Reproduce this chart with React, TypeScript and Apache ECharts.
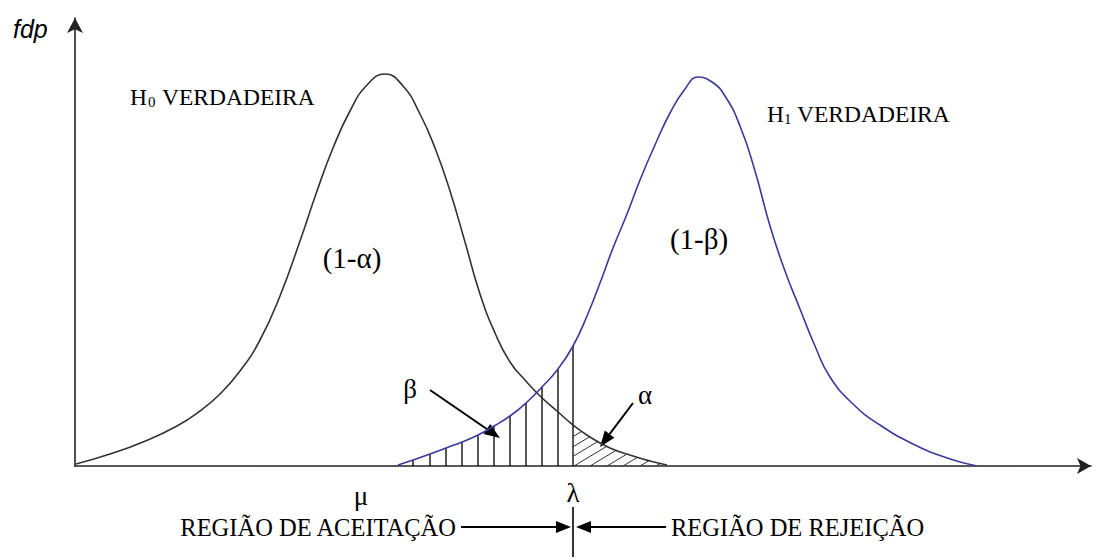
import React, { useEffect, useRef } from 'react';
import * as echarts from 'echarts';

// H0 density curve (x, height above baseline)
const h0X = [76, 110, 143, 177, 200, 220, 240, 260, 280, 300, 317, 333, 350, 367, 385, 403, 420, 435, 450, 465, 480, 495, 510, 525, 540, 557, 573, 590, 610, 633, 650, 667];
const h0Y = [2, 12, 24, 40, 55, 72, 95, 126, 170, 225, 275, 318, 355, 381, 392, 380, 352, 318, 275, 224, 172, 133, 104, 86, 70, 55, 41, 29, 18, 10, 5, 1];

// H1 density curve
const h1X = [398, 413, 430, 446, 462, 478, 494, 510, 526, 542, 558, 573, 587, 600, 613, 627, 640, 655, 670, 685, 698, 712, 725, 740, 755, 770, 785, 800, 815, 830, 853, 880, 913, 947, 977];
const h1Y = [1, 6, 12, 18, 24, 31, 40, 50, 63, 79, 97, 120, 150, 183, 218, 252, 286, 321, 353, 377, 389, 384, 370, 340, 295, 240, 195, 157, 120, 89, 62, 41, 22, 8, 0];

// beta region vertical hatch positions (last one is lambda)
const betaX = [413, 430, 446, 462, 478, 494, 510, 526, 542, 558, 573];
const lambdaX = 573;
// alpha region diagonal hatch start points on the baseline
const alphaStarts = [508, 524, 541, 557, 574, 590, 607, 623, 640, 656];
const hatchSlope = 0.6;

const SERIF = "'Liberation Serif', 'Times New Roman', serif";

function interp(xs: number[], ys: number[], x: number): number {
  if (x <= xs[0]) return ys[0];
  for (let i = 1; i < xs.length; i++) {
    if (x <= xs[i]) {
      const t = (x - xs[i - 1]) / (xs[i] - xs[i - 1]);
      return ys[i - 1] + t * (ys[i] - ys[i - 1]);
    }
  }
  return ys[ys.length - 1];
}

function arrow(x1: number, y1: number, x2: number, y2: number, hl = 16, hw = 12): any[] {
  const dx = x2 - x1, dy = y2 - y1;
  const L = Math.sqrt(dx * dx + dy * dy);
  const ux = dx / L, uy = dy / L;
  const bx = x2 - ux * hl, by = y2 - uy * hl;
  const px = -uy * hw / 2, py = ux * hw / 2;
  return [
    { type: 'line', shape: { x1, y1, x2: bx, y2: by }, style: { stroke: '#000', lineWidth: 2 } },
    { type: 'polygon', shape: { points: [[x2, y2], [bx + px, by + py], [bx - px, by - py]] }, style: { fill: '#000' } },
  ];
}

function txt(x: number, y: number, text: string, size: number, align = 'left', extra: any = {}): any {
  return {
    type: 'text', x, y,
    style: { text, fontSize: size, fontFamily: SERIF, fill: '#000', align, verticalAlign: 'middle', ...extra },
  };
}

export default function App() {
  const ref = useRef<HTMLDivElement>(null);
  useEffect(() => {
    const chart = echarts.init(ref.current!, null, { renderer: 'svg' });
    const hideAxis = { axisTick: { show: false }, axisLabel: { show: false }, splitLine: { show: false } };
    const option: any = {
      animation: false,
      backgroundColor: '#fff',
      grid: { left: 75, right: 7, top: 18, bottom: 93 },
      xAxis: {
        type: 'value', min: 75, max: 1091,
        axisLine: { show: true, symbol: ['none', 'arrow'], symbolSize: [12, 14], lineStyle: { color: '#222', width: 1.6 } },
        ...hideAxis,
      },
      yAxis: {
        type: 'value', min: 0, max: 448,
        axisLine: { show: true, symbol: ['none', 'arrow'], symbolSize: [12, 15], lineStyle: { color: '#222', width: 1.6 } },
        ...hideAxis,
      },
      series: [
        {
          type: 'line', data: h0X.map((x, i) => [x, h0Y[i]]), smooth: 0.5, showSymbol: false,
          lineStyle: { color: '#333', width: 1.6 }, z: 3,
        },
        {
          type: 'line', data: h1X.map((x, i) => [x, h1Y[i]]), smooth: 0.5, showSymbol: false,
          lineStyle: { color: '#3a3a9c', width: 1.6 }, z: 3,
        },
        {
          type: 'custom', z: 2,
          data: betaX.map((x) => [x, interp(h1X, h1Y, x)]),
          renderItem: (params: any, api: any) => {
            const top = api.coord([api.value(0), api.value(1)]);
            const bot = api.coord([api.value(0), 0]);
            return { type: 'line', shape: { x1: bot[0], y1: bot[1], x2: top[0], y2: top[1] }, style: { stroke: '#111', lineWidth: 1.4 } };
          },
        },
        {
          type: 'custom', z: 2,
          data: alphaStarts.map((x) => [x, 0]),
          renderItem: (params: any, api: any) => {
            const x0 = api.value(0);
            const xs = Math.max(lambdaX, x0);
            const ys = hatchSlope * (xs - x0);
            if (ys >= interp(h0X, h0Y, xs)) return null;
            let x = xs;
            while (x < h0X[h0X.length - 1] && hatchSlope * (x - x0) < interp(h0X, h0Y, x)) x += 0.25;
            const p1 = api.coord([xs, ys]);
            const p2 = api.coord([x, hatchSlope * (x - x0)]);
            return { type: 'line', shape: { x1: p1[0], y1: p1[1], x2: p2[0], y2: p2[1] }, style: { stroke: '#333', lineWidth: 1 } };
          },
        },
      ],
      graphic: [
        { type: 'text', x: 13, y: 29, style: { text: 'fdp', fontSize: 25, fontStyle: 'italic', fontFamily: "'Liberation Sans', Arial, sans-serif", fill: '#000', verticalAlign: 'middle' } },
        txt(130, 97, 'H', 23.5),
        txt(148, 102, '0', 15),
        txt(162, 97, 'VERDADEIRA', 23.5),
        txt(767, 114, 'H', 23.5),
        txt(784, 119, '1', 15),
        txt(797, 114, 'VERDADEIRA', 23.5),
        txt(352, 258, '(1-α)', 29, 'center'),
        txt(699, 239, '(1-β)', 29, 'center'),
        txt(410, 389, 'β', 27, 'center'),
        txt(645, 395, 'α', 27, 'center'),
        txt(361, 496, 'μ', 27, 'center'),
        txt(573, 493, 'λ', 27, 'center'),
        txt(456, 527, 'REGIÃO DE ACEITAÇÃO', 24.5, 'right'),
        txt(671, 527, 'REGIÃO DE REJEIÇÃO', 24.5, 'left'),
        ...arrow(430, 390, 500, 438),
        ...arrow(633, 403, 600, 447),
        ...arrow(461, 527, 571, 527, 15, 12),
        ...arrow(666, 527, 576, 527, 15, 12),
        { type: 'line', shape: { x1: 573, y1: 507, x2: 573, y2: 557 }, style: { stroke: '#000', lineWidth: 1.6 } },
      ],
    };
    chart.setOption(option);
    return () => chart.dispose();
  }, []);
  return <div ref={ref} style={{ position: 'fixed', left: 0, top: 0, width: 1098, height: 559, background: '#fff' }} />;
}
